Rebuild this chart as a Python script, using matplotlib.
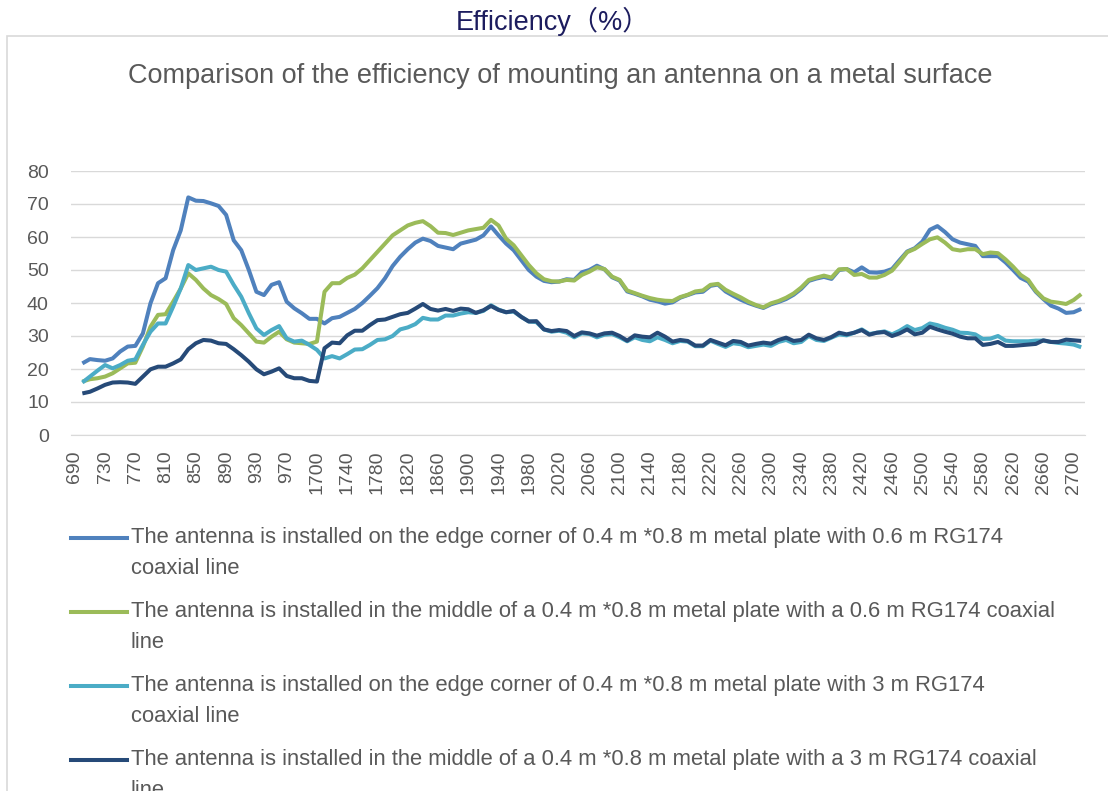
import numpy as np
import matplotlib
matplotlib.use("Agg")
import matplotlib.pyplot as plt
from matplotlib.lines import Line2D
from matplotlib.patches import Rectangle

plt.rcParams['font.family'] = ['Liberation Sans', 'Noto Sans CJK SC', 'DejaVu Sans']

# =========================
# DATA
# =========================
# frequency categories (MHz): low band then high band
freqs = list(range(690, 1001, 10)) + list(range(1700, 2711, 10))

# efficiency (%), first category (690) has no reading
edge_06 = [21.7, 23.0, 22.7, 22.5, 23.2, 25.3, 26.8, 27.0, 30.8, 39.9, 46.0, 47.5, 56.0, 62.0, 72.0,
           71.0, 70.9, 70.2, 69.4, 66.7, 59.0, 56.0, 50.0, 43.4, 42.4, 45.5, 46.3, 40.4, 38.4, 36.9,
           35.2, 35.2, 33.8, 35.4, 35.8, 37.0, 38.2, 40.0, 42.2, 44.5, 47.5, 51.2, 54.0, 56.3, 58.3,
           59.5, 58.8, 57.3, 56.8, 56.3, 58.0, 58.6, 59.2, 60.5, 63.2, 60.5, 58.0, 56.0, 53.0, 50.0,
           48.0, 46.7, 46.3, 46.5, 47.2, 47.0, 49.3, 50.0, 51.3, 50.2, 47.8, 46.8, 43.5, 42.8, 42.0,
           41.0, 40.5, 39.8, 40.2, 41.6, 42.4, 43.2, 43.4, 45.2, 45.6, 43.5, 42.2, 41.0, 40.0, 39.2,
           38.5, 39.6, 40.3, 41.2, 42.5, 44.3, 46.7, 47.4, 47.9, 47.3, 50.0, 50.3, 49.3, 50.8, 49.3,
           49.2, 49.5, 50.3, 53.0, 55.6, 56.6, 58.6, 62.2, 63.3, 61.5, 59.3, 58.3, 57.8, 57.3, 54.2,
           54.2, 54.2, 52.3, 50.0, 47.6, 46.5, 43.4, 41.2, 39.2, 38.3, 37.0, 37.2, 38.2]

middle_06 = [16.2, 16.9, 17.2, 17.7, 18.7, 20.2, 21.7, 21.9, 26.8, 32.8, 36.4, 36.6, 40.4, 44.4, 49.0,
             47.0, 44.4, 42.4, 41.2, 39.7, 35.4, 33.3, 30.8, 28.3, 28.0, 29.8, 31.3, 29.0, 28.0, 27.8,
             27.6, 28.3, 43.4, 46.0, 46.0, 47.6, 48.6, 50.5, 53.0, 55.5, 58.0, 60.5, 62.0, 63.5, 64.3,
             64.8, 63.3, 61.3, 61.2, 60.6, 61.3, 62.0, 62.4, 62.8, 65.2, 63.5, 59.5, 57.5, 54.5, 51.5,
             49.0, 47.2, 46.6, 46.5, 47.0, 46.8, 48.5, 49.5, 50.8, 50.3, 48.0, 47.0, 43.8, 43.0, 42.2,
             41.5, 41.0, 40.7, 40.6, 41.8, 42.5, 43.5, 43.8, 45.5, 45.8, 44.0, 42.8, 41.7, 40.4, 39.4,
             38.7, 39.9, 40.6, 41.6, 42.9, 44.7, 47.0, 47.7, 48.3, 47.7, 50.2, 50.3, 48.5, 48.8, 47.7,
             47.7, 48.5, 49.8, 52.5, 55.4, 56.4, 57.9, 59.3, 59.9, 58.3, 56.3, 55.9, 56.3, 56.3, 54.8,
             55.3, 55.1, 53.2, 51.0, 48.5, 47.0, 43.7, 41.4, 40.4, 40.1, 39.7, 40.9, 42.7]

edge_3 = [15.9, 17.7, 19.5, 21.2, 20.2, 21.2, 22.5, 22.9, 27.3, 31.3, 33.8, 33.8, 38.9, 44.4, 51.5,
          50.0, 50.5, 51.0, 50.0, 49.5, 45.5, 41.9, 36.9, 32.3, 30.3, 31.8, 33.0, 29.3, 28.3, 28.6,
          27.3, 25.8, 23.2, 23.9, 23.2, 24.5, 25.9, 26.0, 27.3, 28.8, 29.0, 30.0, 32.0, 32.6, 33.6,
          35.5, 35.0, 35.0, 36.2, 36.2, 36.8, 37.2, 37.0, 37.6, 39.3, 38.0, 37.2, 37.4, 35.8, 34.4,
          34.2, 32.0, 31.3, 31.6, 31.0, 29.6, 30.8, 30.6, 29.6, 30.4, 30.6, 29.6, 28.4, 29.6, 28.8,
          28.4, 29.6, 28.8, 27.8, 28.5, 28.3, 26.9, 26.9, 28.6, 27.6, 26.7, 27.8, 27.5, 26.6, 27.0,
          27.4, 27.0, 28.2, 28.8, 27.8, 28.2, 30.0, 28.8, 28.5, 29.5, 30.5, 30.2, 31.0, 32.0, 30.6,
          31.0, 31.4, 30.5, 31.6, 33.0, 31.8, 32.4, 33.8, 33.3, 32.5, 31.9, 31.0, 30.9, 30.5, 29.1,
          29.2, 30.0, 28.6, 28.4, 28.4, 28.4, 28.6, 28.6, 28.2, 27.9, 27.7, 27.4, 26.6]

middle_3 = [12.6, 13.1, 14.1, 15.2, 15.9, 16.0, 15.9, 15.5, 17.7, 19.9, 20.7, 20.7, 21.7, 22.9, 26.0,
            27.8, 28.8, 28.6, 27.8, 27.6, 26.0, 24.2, 22.2, 19.9, 18.4, 19.2, 20.2, 17.9, 17.2, 17.2,
            16.4, 16.2, 26.3, 28.0, 27.8, 30.2, 31.6, 31.6, 33.3, 34.8, 35.0, 35.8, 36.6, 37.0, 38.3,
            39.7, 38.2, 37.7, 38.2, 37.6, 38.3, 38.1, 37.0, 37.8, 39.1, 37.9, 37.2, 37.6, 35.8, 34.4,
            34.5, 32.0, 31.5, 31.8, 31.5, 30.0, 31.1, 30.8, 30.1, 30.8, 31.0, 30.0, 28.6, 30.2, 29.8,
            29.6, 31.0, 29.8, 28.3, 28.8, 28.5, 27.1, 27.1, 28.8, 28.0, 27.2, 28.5, 28.2, 27.1, 27.6,
            28.0, 27.7, 28.8, 29.5, 28.5, 28.8, 30.4, 29.3, 28.8, 29.7, 31.0, 30.5, 31.0, 31.8, 30.4,
            31.0, 31.2, 30.0, 30.8, 32.0, 30.5, 31.0, 32.8, 32.0, 31.3, 30.7, 29.8, 29.3, 29.3, 27.3,
            27.6, 28.2, 27.0, 27.0, 27.2, 27.4, 27.6, 28.7, 28.2, 28.2, 28.9, 28.7, 28.5]

labels = [
    "The antenna is installed on the edge corner of 0.4 m *0.8 m metal plate with 0.6 m RG174\ncoaxial line",
    "The antenna is installed in the middle of a 0.4 m *0.8 m metal plate with a 0.6 m RG174 coaxial\nline",
    "The antenna is installed on the edge corner of 0.4 m *0.8 m metal plate with 3 m RG174\ncoaxial line",
    "The antenna is installed in the middle of a 0.4 m *0.8 m metal plate with a 3 m RG174 coaxial\nline",
]
colors = ["#4F81BD", "#9BBB59", "#4BACC6", "#264A78"]
series = [edge_06, middle_06, edge_3, middle_3]

# =========================
# FIGURE
# =========================
W, H = 1108, 791
fig = plt.figure(figsize=(W / 100, H / 100), dpi=100)

# chart area border
fig.add_artist(Rectangle((7 / W, -0.02), 1.1, 1 - 36 / H + 0.02, transform=fig.transFigure,
                         fill=False, edgecolor="#D9D9D9", lw=1.2))

fig.text(553 / W, 1 - 21 / H, "Efficiency（%）", ha="center", va="center",
         fontsize=19.5, color="#1C1C5E")
fig.text(560 / W, 1 - 76 / H, "Comparison of the efficiency of mounting an antenna on a metal surface",
         ha="center", va="center", fontsize=19.5, color="#595959")

ax = fig.add_axes([71 / W, 1 - 435 / H, (1085 - 71) / W, (435 - 171) / H])

x = np.arange(1, len(freqs))
for vals, c in zip(series, colors):
    ax.plot(x, vals, color=c, lw=2.9, solid_joinstyle="round", solid_capstyle="butt")

ax.set_xlim(-0.5, len(freqs) - 0.5)
ax.set_ylim(0, 80)
ax.set_yticks(range(0, 81, 10))
ax.set_xticks(range(0, len(freqs), 4))
ax.set_xticklabels([str(f) for f in freqs[::4]], rotation=90)
ax.yaxis.grid(True, color="#D9D9D9", lw=1.0)
ax.set_axisbelow(True)
for s in ["top", "right", "left"]:
    ax.spines[s].set_visible(False)
ax.spines["bottom"].set_color("#D9D9D9")
ax.tick_params(axis="both", length=0, labelcolor="#595959", labelsize=14)
ax.tick_params(axis="x", pad=11)
ax.tick_params(axis="y", pad=16)

# legend drawn below the chart
ys = [538, 612, 686, 760]
for lab, c, yy in zip(labels, colors, ys):
    fig.add_artist(Line2D([71 / W, 127 / W], [1 - yy / H, 1 - yy / H], color=c, lw=2.9,
                          transform=fig.transFigure))
    for k, line in enumerate(lab.split("\n")):
        fig.text(131 / W, 1 - (yy + 30 * k) / H, line, ha="left", va="center",
                 fontsize=15.8, color="#595959")

fig.savefig("out.png", dpi=100)
